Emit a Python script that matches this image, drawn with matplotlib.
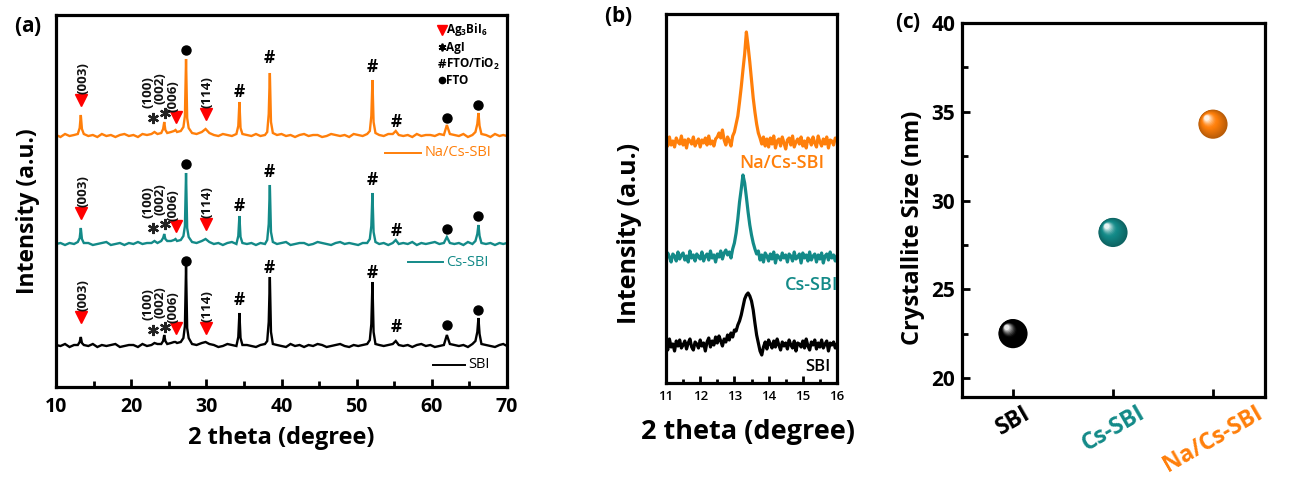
import numpy as np
import matplotlib
matplotlib.use('Agg')
import matplotlib.pyplot as plt
import matplotlib.colors as mcolors
from matplotlib.transforms import offset_copy
from matplotlib.ticker import MultipleLocator

plt.rcParams['font.family'] = ['Open Sans', 'DejaVu Sans']
plt.rcParams['font.weight'] = 'bold'
plt.rcParams['mathtext.fontset'] = 'custom'
plt.rcParams['mathtext.rm'] = 'Open Sans'
plt.rcParams['mathtext.bf'] = 'Open Sans:bold'
plt.rcParams['mathtext.it'] = 'Open Sans:italic'

ORANGE = '#FF7F0A'
TEAL = '#138A88'
BLACK = '#000000'
RED = '#FF0000'

# ---------------- panel (a): XRD patterns (heights above each baseline, a.u.) -----------
two_theta_a = [
    10.0, 10.6, 11.2, 11.8, 12.4, 12.9,
    13.15, 13.3, 13.45, 13.7,
    14.3, 14.9, 15.5, 16.1, 16.7, 17.3, 17.9, 18.5, 19.1, 19.7, 20.3, 20.9, 21.5, 22.1, 22.7,
    23.1, 23.5, 24.0, 24.25, 24.4, 24.55, 24.8, 25.3, 25.7, 25.9, 26.1, 26.6,
    26.95, 27.15, 27.3, 27.45, 27.65, 28.1,
    28.7, 29.4, 29.9, 30.4,
    31.0, 31.6, 32.2, 32.8, 33.4, 34.0,
    34.25, 34.4, 34.55, 34.8,
    35.4, 36.0, 36.6, 37.2, 37.8,
    38.1, 38.3, 38.45, 38.6, 38.85,
    39.4, 40.0, 40.6, 41.2, 41.8, 42.4, 43.0, 43.6, 44.2, 44.8, 45.4, 46.0, 46.6, 47.2, 47.8,
    48.4, 49.0, 49.6, 50.2, 50.8, 51.4,
    51.75, 51.95, 52.1, 52.25, 52.5,
    53.0, 53.6, 54.2, 54.8, 55.2, 55.6,
    56.2, 56.8, 57.4, 58.0, 58.6, 59.2, 59.8, 60.4, 61.0, 61.6,
    62.0, 62.4,
    63.0, 63.6, 64.2, 64.8, 65.4, 65.8,
    66.05, 66.2, 66.35, 66.6,
    67.2, 67.8, 68.4, 69.0, 69.5, 70.0,
]
nacs_sbi_a = [
    1, -1, 2, 0, 1, 2,
    8, 21, 7, 2,
    0, 1, -1, 2, 0, 1, -1, 1, 2, 0, 1, -1, 2, 1, 2,
    4, 2, 3, 7, 14, 6, 3, 4, 5, 6, 4, 5,
    9, 20, 77, 18, 8, 3,
    2, 4, 7, 3,
    1, 0, 2, 1, 0, 2,
    10, 34, 8, 2,
    1, 0, 2, 0, 1,
    4, 22, 63, 14, 3,
    1, 2, 0, 1, -1, 1, 2, 0, 1, 1, -1, 0, 2, 1, 0, 1, -1, 2, 1, 0, 2,
    5, 20, 56, 14, 3,
    1, 0, 2, 2, 5, 1,
    0, 1, -1, 2, 0, 1, 1, 0, 2, 1,
    11, 2,
    1, 0, 2, -1, 1, 4,
    12, 23, 10, 2,
    1, -1, 2, 0, 1, 0,
]
cs_sbi_a = [
    0, 1, -1, 1, 0, 2,
    6, 16, 5, 1,
    1, -1, 0, 1, 2, -1, 0, 1, -1, 1, 0, 2, 0, 1, 1,
    3, 1, 3, 6, 10, 5, 3, 3, 4, 5, 3, 4,
    8, 18, 71, 16, 7, 2,
    1, 3, 5, 2,
    0, 1, -1, 1, 2, 0,
    8, 28, 7, 1,
    0, 1, -1, 1, 0,
    4, 20, 59, 12, 2,
    0, 1, 2, -1, 0, 1, 1, -1, 0, 2, 1, 0, -1, 1, 2, 0, 1, 0, -1, 1, 1,
    5, 18, 51, 12, 2,
    0, 1, -1, 1, 4, 0,
    1, 0, 2, -1, 1, 0, 1, 2, 0, 1,
    7, 1,
    0, 1, -1, 2, 0, 3,
    10, 19, 8, 1,
    0, 1, -1, 1, 0, 1,
]
sbi_a = [
    1, 0, 2, -1, 1, 1,
    4, 9, 3, 1,
    0, 2, -1, 1, 0, 1, 2, -1, 0, 1, 1, -1, 2, 0, 1,
    3, 2, 2, 5, 11, 5, 2, 3, 4, 4, 3, 4,
    8, 20, 80, 18, 8, 2,
    1, 3, 4, 2,
    1, -1, 0, 2, 1, 0,
    9, 33, 8, 1,
    1, 0, -1, 1, 2,
    5, 24, 69, 14, 2,
    1, 0, -1, 2, 0, 1, -1, 1, 0, 2, 1, -1, 0, 1, 2, 0, -1, 1, 0, 1, 2,
    6, 22, 64, 14, 2,
    1, 0, 1, 2, 5, 1,
    0, 1, -1, 1, 2, 0, 1, -1, 0, 1,
    11, 2,
    1, 0, 1, -1, 2, 5,
    14, 28, 12, 2,
    1, 0, -1, 1, 2, 0,
]

# peak assignment marks
mark_x = [13.3, 22.9, 24.5, 25.9, 27.3, 29.9, 34.4, 38.4, 52.1, 55.2, 62.0, 66.2]
mark_kind = ['tri', 'ast', 'ast', 'tri', 'dot', 'tri', 'hash', 'hash', 'hash', 'hash', 'dot', 'dot']
nacs_mark_h = [36, 18, 23, 19, 86, 22, 44, 78, 69, 14, 18, 31]
cs_mark_h = [31, 16, 20, 18, 80, 20, 38, 72, 64, 13, 15, 28]
sbi_mark_h = [29, 16, 19, 18, 85, 18, 46, 78, 73, 19, 21, 36]
hkl_labels = ['(003)', '(100)', '(002)', '(006)', '(114)']
hkl_x = [13.6, 22.3, 23.85, 25.55, 30.05]
hkl_ref = [0, 1, 2, 3, 5]   # which mark each hkl label sits above
hkl_extra = [6, 10, 9, 5, 6]

legend_symbols = ['tri', 'ast', 'hash', 'dot']
legend_texts = [r'Ag$_3$BiI$_6$', 'AgI', r'FTO/TiO$_2$', 'FTO']

# ---------------- panel (b): zoom on (003) --------------------------------------------
two_theta_b = np.round(np.arange(11.0, 16.0001, 0.05), 2)
nacs_sbi_b = [
    2, -4, 5, -3, 1, -5, 4, 0, -2, 6,
    -3, 2, -6, 3, 1, -2, 5, -4, 0, 3,
    -5, 2, -1, 4, -3, 6, -2, 1, -4, 3,
    5, 9, 4, 12, 2, -3, 5, 1, -4, 6,
    10, 18, 26, 40, 55, 72, 88, 110, 96, 80,
    62, 44, 30, 18, 9, 4, -2, 5, -4, 3,
    -5, 4, -2, 6, -6, 1, 3, -4, 5, -1,
    -7, 2, 4, -3, 6, -5, 0, 3, -2, 5,
    -4, 1, -6, 4, 2, -3, 5, -1, -5, 6,
    0, -4, 3, -2, 5, -6, 2, 1, -3, 4,
    2,
]
cs_sbi_b = [
    -3, 4, 0, -5, 3, 1, -4, 5, -2, 2,
    4, -3, 1, -5, 6, -1, 2, -4, 3, 0,
    -2, 5, -4, 1, 3, -3, 6, -1, 2, -5,
    3, 0, 6, -2, 4, 7, 2, 5, -1, 8,
    14, 24, 38, 55, 68, 82, 74, 60, 45, 32,
    22, 14, 8, 3, 6, -3, 2, -5, 4, 1,
    -4, 3, -2, 5, -6, 2, 0, -3, 4, -1,
    2, -5, 3, 1, -4, 5, -2, 0, 3, -6,
    4, -1, 2, -4, 5, -3, 1, 3, -5, 2,
    -2, 4, -6, 1, 3, -3, 5, -1, 2, -4,
    1,
]
sbi_b = [
    3, -5, 6, -2, 1, -6, 4, -1, 5, -3,
    0, 4, -4, 2, 6, -2, -5, 3, 1, -3,
    5, -1, 2, -6, 3, 7, -2, 4, 0, 8,
    2, 9, 4, -1, 6, 3, 10, 5, 12, 8,
    15, 14, 20, 24, 30, 38, 46, 50, 52, 49,
    44, 35, 22, 10, 2, -6, -10, -2, 3, -4,
    5, 1, -3, 4, -2, 6, 0, -5, 3, -1,
    2, -4, 5, 0, -3, 4, -6, 2, 1, -2,
    4, -3, 6, -1, -5, 3, 0, 5, -4, 2,
    -2, 5, -3, 1, 4, -6, 2, 0, 3, -3,
    1,
]

# ---------------- panel (c): crystallite size -----------------------------------------
samples = ['SBI', 'Cs-SBI', 'Na/Cs-SBI']
crystallite_nm = [22.5, 28.2, 34.3]

# ======================================================================================
W, H = 1290, 480
fig = plt.figure(figsize=(W / 100, H / 100), dpi=100)


def box(l, t, r, b):
    return [l / W, 1 - b / H, (r - l) / W, (b - t) / H]


axA = fig.add_axes(box(56, 15, 507, 387))
axB = fig.add_axes(box(666, 14, 837, 383))
axC = fig.add_axes(box(962, 23, 1265, 397))

SPINE_W = 2.3
for ax in (axA, axB, axC):
    for s in ax.spines.values():
        s.set_linewidth(SPINE_W)

# ---- panel (a)
series_a = [(sbi_a, BLACK, 41, sbi_mark_h), (cs_sbi_a, TEAL, 143, cs_mark_h),
            (nacs_sbi_a, ORANGE, 251, nacs_mark_h)]
x_a = np.array(two_theta_a)
for ys, col, base, mh in series_a:
    axA.plot(x_a, base + np.array(ys), color=col, lw=1.7, solid_joinstyle='miter')
    for xm, kind, h in zip(mark_x, mark_kind, mh):
        y = base + h
        if kind == 'tri':
            axA.plot(xm, y, marker='v', ms=8, color=RED, mec=RED, ls='none')
        elif kind == 'ast':
            axA.plot(xm, y, marker=(6, 2, 0), ms=8, mew=1.6, color='#222222', ls='none')
        elif kind == 'dot':
            axA.plot(xm, y, marker='o', ms=6.5, color='black', ls='none')
        else:
            axA.text(xm, y, '#', fontsize=12.5, ha='center', va='center', color='black')
    for lab, xl, ref, extra in zip(hkl_labels, hkl_x, hkl_ref, hkl_extra):
        axA.text(xl, base + mh[ref] + extra, lab, rotation=90, fontsize=9.5,
                 ha='center', va='bottom', color='#111111')

axA.set_xlim(10, 70)
axA.set_ylim(0, 372)
axA.set_yticks([])
axA.xaxis.set_major_locator(MultipleLocator(10))
axA.xaxis.set_minor_locator(MultipleLocator(5))
axA.tick_params(axis='x', which='major', direction='in', length=6, width=2, labelsize=14, pad=7)
axA.tick_params(axis='x', which='minor', direction='in', length=4, width=2)

# legend of phases
leg_y = [357, 340, 323, 307]
for sym, txt, yy in zip(legend_symbols, legend_texts, leg_y):
    xs = 61.3
    if sym == 'tri':
        axA.plot(xs, yy, marker='v', ms=6.5, color=RED, ls='none')
    elif sym == 'ast':
        axA.plot(xs, yy, marker=(6, 2, 0), ms=5.5, mew=1.3, color='black', ls='none')
    elif sym == 'hash':
        axA.text(xs, yy, '#', fontsize=9.5, ha='center', va='center')
    else:
        axA.plot(xs, yy, marker='o', ms=4.5, color='black', ls='none')
    axA.text(xs + 0.6, yy, txt, fontsize=8.5, ha='left', va='center')

# series labels
for x0, x1, yy, txt, col in [(53.8, 58.6, 234, 'Na/Cs-SBI', ORANGE),
                             (56.8, 61.5, 125, 'Cs-SBI', TEAL),
                             (60.2, 64.4, 22, 'SBI', BLACK)]:
    axA.plot([x0, x1], [yy, yy], color=col, lw=1.4)
    axA.text(x1 + 0.4, yy, txt, color=col, fontsize=10.5, fontweight='normal',
             ha='left', va='center')

# ---- panel (b)
for ys, col, base in [(sbi_b, BLACK, 38), (cs_sbi_b, TEAL, 126), (nacs_sbi_b, ORANGE, 241)]:
    axB.plot(two_theta_b, base + np.array(ys), color=col, lw=2.3)
axB.set_xlim(11, 16)
axB.set_ylim(0, 369)
axB.set_yticks([])
axB.xaxis.set_major_locator(MultipleLocator(1))
axB.xaxis.set_minor_locator(MultipleLocator(0.5))
axB.tick_params(axis='x', which='major', direction='in', length=5, width=2, labelsize=9.5, pad=5)
axB.tick_params(axis='x', which='minor', direction='in', length=3, width=2)
for t in axB.get_xticklabels():
    t.set_fontweight('semibold')
axB.text(14.4, 220, 'Na/Cs-SBI', color=ORANGE, fontsize=13, fontweight='semibold',
         ha='center', va='center')
axB.text(15.25, 98, 'Cs-SBI', color=TEAL, fontsize=13, fontweight='semibold',
         ha='center', va='center')
axB.text(15.45, 16, 'SBI', color=BLACK, fontsize=12, fontweight='semibold',
         ha='center', va='center')

# ---- panel (c)
xc = np.arange(1, len(samples) + 1)
cols_c = [BLACK, TEAL, ORANGE]


def sphere(ax, x, y, color, R=10.5):
    base = np.array(mcolors.to_rgb(color))
    white = np.ones(3)
    n = 16
    for k in range(n):
        f = k / (n - 1)
        r = R * (1 - 0.82 * f)
        dx, dy = -0.42 * R * f, 0.42 * R * f
        if f < 0.55:
            c = base * (0.72 + 0.28 * f / 0.55) if color != BLACK else base + 0.0
        else:
            t = (f - 0.55) / 0.45
            c = base * (1 - t ** 1.5 * 0.9) + white * t ** 1.5 * 0.9
        c = np.clip(c, 0, 1)
        tr = offset_copy(ax.transData, fig=fig, x=dx, y=dy, units='points')
        ax.scatter([x], [y], s=(2 * r) ** 2, color=[c], transform=tr,
                   edgecolors='none', zorder=3 + k)


for x, v, c in zip(xc, crystallite_nm, cols_c):
    sphere(axC, x, v, c)

axC.set_xlim(0.49, 3.52)
axC.set_ylim(18.93, 40)
axC.set_yticks([20, 25, 30, 35, 40])
axC.yaxis.set_minor_locator(MultipleLocator(2.5))
axC.set_xticks(xc)
axC.set_xticklabels(samples)
axC.tick_params(axis='y', which='major', direction='in', length=6, width=2, labelsize=15, pad=5)
axC.tick_params(axis='y', which='minor', direction='in', length=4, width=2)
axC.tick_params(axis='x', which='major', direction='in', length=6, width=2, labelsize=16.5, pad=3)
for t, c in zip(axC.get_xticklabels(), cols_c):
    t.set_color(c)
    t.set_rotation(30)
    t.set_ha('center')

# ---- axis labels and panel tags
fig.text(281 / W, 1 - 438 / H, '2 theta (degree)', fontsize=17, ha='center', va='center')
fig.text(28 / W, 1 - 211 / H, 'Intensity (a.u.)', fontsize=16.5, rotation=90, ha='center', va='center')
fig.text(748 / W, 1 - 432 / H, '2 theta (degree)', fontsize=19.5, ha='center', va='center')
fig.text(630 / W, 1 - 233 / H, 'Intensity (a.u.)', fontsize=18, rotation=90, ha='center', va='center')
fig.text(913 / W, 1 - 228 / H, 'Crystallite Size (nm)', fontsize=17, rotation=90, ha='center', va='center')

for xx, yy, lt in [(28, 27, 'a'), (618, 16, 'b'), (908, 22, 'c')]:
    fig.text(xx / W, 1 - yy / H, r'$\mathrm{(}\mathbf{%s}\mathrm{)}$' % lt, fontsize=15,
             ha='center', va='center')

fig.savefig('out.png', dpi=100, facecolor='white')
